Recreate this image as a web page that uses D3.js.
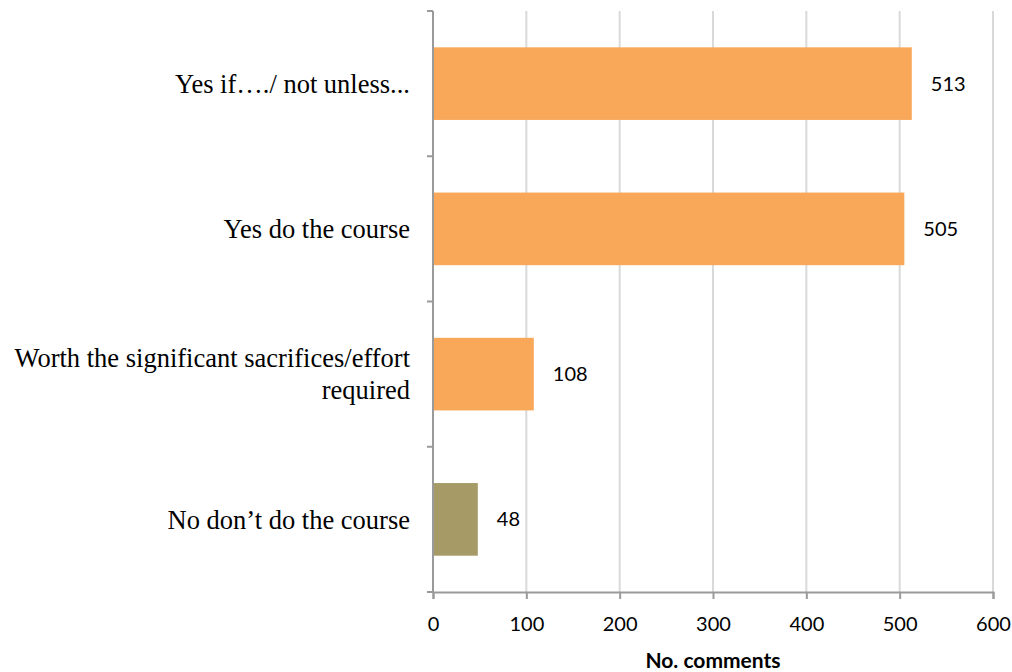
<!DOCTYPE html>
<html>
<head>
<meta charset="utf-8">
<script src="https://cdn.jsdelivr.net/npm/d3@7"></script>
<style>
  body { margin: 0; background: #fff; }
</style>
</head>
<body>
<script>
// data
const categories = [
    ["Yes if\u2026./ not unless..."],
    ["Yes do the course"],
    ["Worth the significant sacrifices/effort", "required"],
    ["No don\u2019t do the course"]
]
const values = [513, 505, 108, 48]
const barColors = ["#f9a85a", "#f9a85a", "#f9a85a", "#a69a66"]
const xTicks = [0, 100, 200, 300, 400, 500, 600]

let w = 1012
let h = 672
let plotLeft = 433, plotRight = 993, plotTop = 11, plotBottom = 592
let sansFont = "Lato, 'Open Sans', sans-serif"

let svg = d3.select("body")
    .append("svg")
    .attr("width", w)
    .attr("height", h)

let x = d3.scaleLinear().domain([0, 600]).range([plotLeft, plotRight])
let y = d3.scaleBand()
    .domain(d3.range(categories.length))
    .range([plotTop, plotBottom])
    .paddingInner(0.5)
    .paddingOuter(0.25)

// vertical gridlines
svg.append("g")
    .selectAll("line")
    .data(xTicks.slice(1))
    .enter().append("line")
    .attr("x1", d => x(d)).attr("x2", d => x(d))
    .attr("y1", plotTop).attr("y2", plotBottom)
    .attr("stroke", "#d9d9d9")
    .attr("stroke-width", 2)

// bars
svg.append("g")
    .selectAll("rect")
    .data(values)
    .enter().append("rect")
    .attr("x", x(0))
    .attr("y", (d, i) => y(i))
    .attr("width", d => x(d) - x(0))
    .attr("height", y.bandwidth())
    .attr("fill", (d, i) => barColors[i])

// value labels
svg.append("g")
    .selectAll("text")
    .data(values)
    .enter().append("text")
    .attr("x", d => x(d) + 19)
    .attr("y", (d, i) => y(i) + y.bandwidth() / 2)
    .attr("dy", "0.35em")
    .attr("font-family", sansFont)
    .attr("font-size", 20)
    .attr("fill", "#000")
    .text(d => d)

// x axis
let xAxis = svg.append("g")
    .attr("transform", "translate(0," + plotBottom + ")")
    .call(d3.axisBottom(x).tickValues(xTicks).tickSize(7).tickPadding(18))
xAxis.select(".domain").attr("stroke", "#9a9a9a").attr("stroke-width", 2)
xAxis.selectAll(".tick line").attr("stroke", "#9a9a9a").attr("stroke-width", 2)
xAxis.selectAll("text")
    .attr("font-family", sansFont)
    .attr("font-size", 20)
    .attr("fill", "#000")

// y axis line + ticks at band boundaries
svg.append("line")
    .attr("x1", plotLeft).attr("x2", plotLeft)
    .attr("y1", plotTop).attr("y2", plotBottom)
    .attr("stroke", "#9a9a9a")
    .attr("stroke-width", 2)
let step = y.step()
svg.append("g")
    .selectAll("line")
    .data(d3.range(categories.length + 1))
    .enter().append("line")
    .attr("x1", plotLeft - 6).attr("x2", plotLeft)
    .attr("y1", i => plotTop + i * step).attr("y2", i => plotTop + i * step)
    .attr("stroke", "#9a9a9a")
    .attr("stroke-width", 2)

// category labels
let catLabels = svg.append("g")
    .selectAll("text")
    .data(categories)
    .enter().append("text")
    .attr("text-anchor", "end")
    .attr("font-family", "'Liberation Serif', 'Times New Roman', serif")
    .attr("font-size", 26.5)
    .attr("fill", "#000")
    .attr("y", (d, i) => y(i) + y.bandwidth() / 2 - (d.length - 1) * 16)

catLabels.selectAll("tspan")
    .data(d => d)
    .enter().append("tspan")
    .attr("x", 410)
    .attr("dy", (d, i) => i === 0 ? "0.35em" : 32)
    .text(d => d)

// axis title
svg.append("text")
    .attr("x", x(300))
    .attr("y", 668)
    .attr("text-anchor", "middle")
    .attr("font-family", sansFont)
    .attr("font-weight", "bold")
    .attr("font-size", 21)
    .attr("fill", "#000")
    .text("No. comments")
</script>
</body>
</html>
